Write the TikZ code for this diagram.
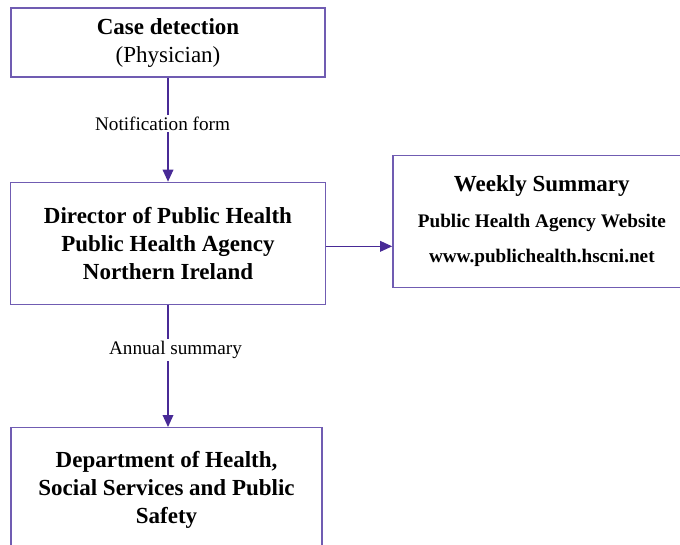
\documentclass[tikz,border=0pt]{standalone}
\usepackage{fontspec}
\setmainfont{Liberation Serif}
\usepackage{xcolor}
\usetikzlibrary{arrows.meta,positioning}
\definecolor{boxline}{RGB}{112,92,178}
\definecolor{arrline}{RGB}{72,42,150}

\begin{document}
\begin{tikzpicture}[>={Triangle[length=9pt,width=8pt]},
  box/.style={draw=boxline,line width=1pt,rectangle,align=center,inner sep=0pt,font=\fontsize{17.25}{21}\selectfont\bfseries},
  lbl/.style={fill=white,inner sep=1.5pt,font=\fontsize{14.4}{17}\selectfont},
  arr/.style={->,draw=arrline,line width=1pt}]
\useasboundingbox (0,0) rectangle (510pt,-408pt);
\node[box,minimum width=235.5pt,minimum height=51.75pt] (detect) at (126pt,-31.875pt) {Case detection\\\mdseries(Physician)};
\node[box,minimum width=236.25pt,minimum height=91.5pt,below=78pt of detect] (director) {Director of Public Health\\Public Health Agency\\Northern Ireland};
\node[box,minimum width=223.5pt,minimum height=99pt,right=49.5pt of director,yshift=16.5pt,font=\fontsize{14.4}{26.5}\selectfont\bfseries] (weekly) {{\fontsize{17.25}{27}\selectfont Weekly Summary}\\Public Health Agency Website\\www.publichealth.hscni.net};
\node[box,minimum width=233.25pt,minimum height=93pt,below=91.5pt of director,xshift=-1.1pt] (dept) {Department of Health,\\Social Services and Public\\Safety};
\draw[arr] (detect) -- node[lbl,pos=0.44,xshift=-4.1pt] {Notification form} (director);
\draw[arr] ([yshift=-2.25pt]director.east) -- ([yshift=-2.25pt]director.east -| weekly.west);
\draw[arr] (director) -- node[lbl,pos=0.37,xshift=5.6pt] {Annual summary} (director |- dept.north);
\end{tikzpicture}
\end{document}
